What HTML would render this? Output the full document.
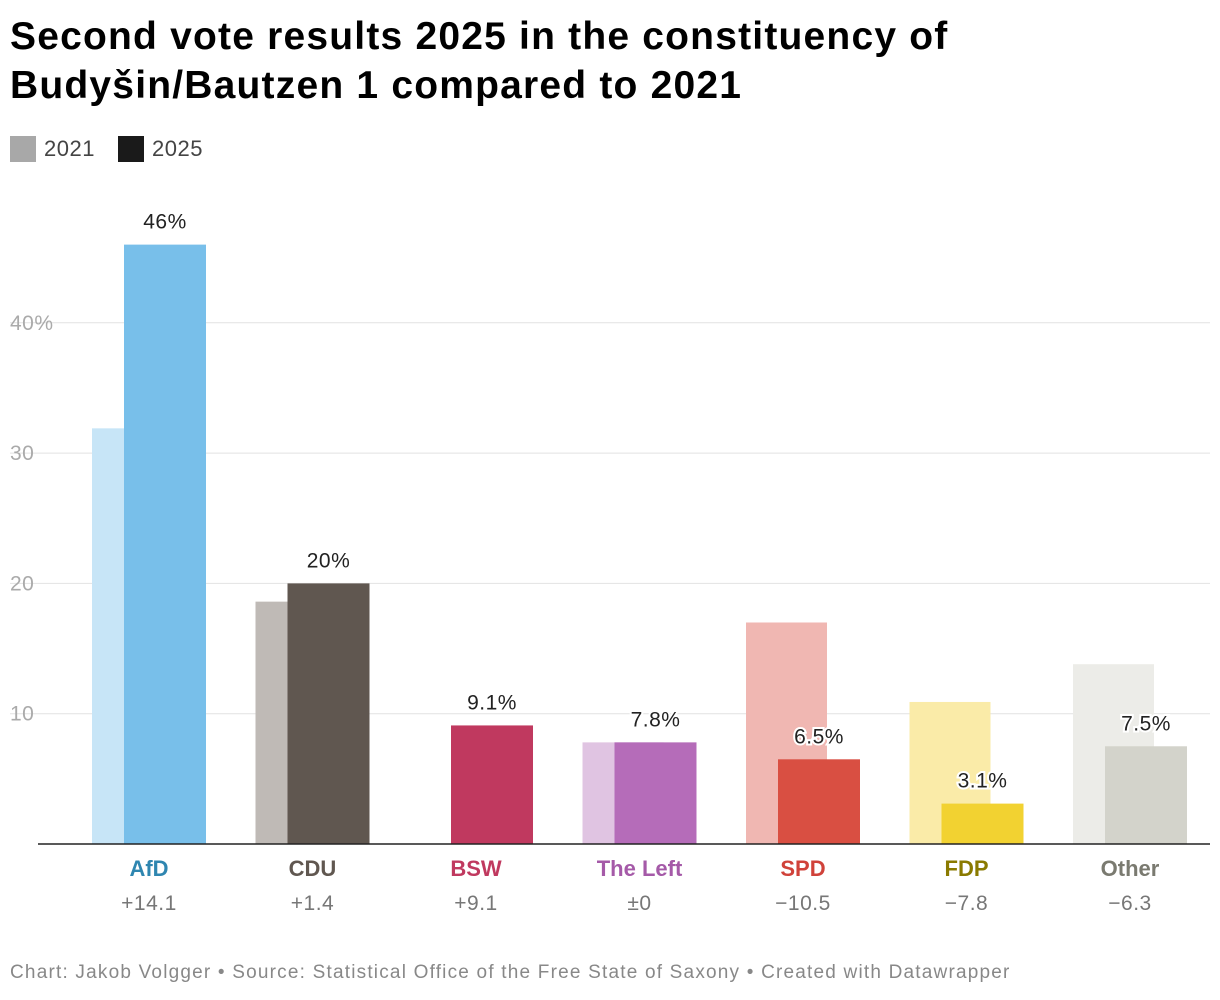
<!DOCTYPE html>
<html><head><meta charset="utf-8">
<style>
body{margin:0;background:#fff;font-family:"Liberation Sans",Arial,sans-serif;}
#wrap{position:relative;width:1220px;height:1000px;overflow:hidden;}
h1{position:absolute;left:10px;top:12px;margin:0;font-size:39px;line-height:49px;font-weight:bold;color:#000;letter-spacing:1.2px;}
.leg{position:absolute;top:136px;font-size:22px;color:#444;display:flex;align-items:center;letter-spacing:0.5px;}
.sw{width:26px;height:26px;margin-right:8px;display:inline-block;}
#foot{position:absolute;left:10px;top:962px;font-size:19px;color:#888;letter-spacing:1.2px;}
</style></head><body>
<div id="wrap">
<h1>Second vote results 2025 in the constituency of<br>Budyšin/Bautzen 1 compared to 2021</h1>
<div class="leg" style="left:10px"><span class="sw" style="background:#a8a8a8"></span>2021</div>
<div class="leg" style="left:118px"><span class="sw" style="background:#1a1a1a"></span>2025</div>
<svg id="chart" width="1220" height="1000" style="position:absolute;left:0;top:0"></svg>
<div id="foot">Chart: Jakob Volgger • Source: Statistical Office of the Free State of Saxony • Created with Datawrapper</div>
</div>
<script>
const parties=["AfD","CDU","BSW","The Left","SPD","FDP","Other"];
const v2021=[31.9,18.6,0,7.8,17.0,10.9,13.8];
const v2025=[46,20,9.1,7.8,6.5,3.1,7.5];
const valueLabels=["46%","20%","9.1%","7.8%","6.5%","3.1%","7.5%"];
const diffLabels=["+14.1","+1.4","+9.1","±0","−10.5","−7.8","−6.3"];
const ticks=[10,20,30,40];
const tickLabels=["10","20","30","40%"];
const dark=["#78bfea","#605750","#c0395f","#b56cb9","#d94f42","#f2d231","#d3d3cb"];
const light=["#c7e5f7","#bfbab6","#f0c4d0","#e0c4e2","#f0b7b2","#faeba8","#ecece8"];
const nameCol=["#2f86b0","#605750","#c0395f","#a55aa8","#d0423a","#8a7a00","#7a7a70"];
const NS="http://www.w3.org/2000/svg";
const svg=document.getElementById('chart');
const y=v=>844-v*13.03;
const gx=i=>124+i*163.5;
function mk(t,a){const e=document.createElementNS(NS,t);for(const k in a)e.setAttribute(k,a[k]);svg.appendChild(e);return e;}
ticks.forEach((t,i)=>{
 const l=mk('line',{x1:10,x2:1210,y1:y(t),y2:y(t),stroke:'#e2e2e2','stroke-width':1});
 
 
 const tx=mk('text',{x:10,y:y(t)+7,'font-size':21,fill:'#aaa','letter-spacing':'0.5'});tx.textContent=tickLabels[i];
 
 
});
parties.forEach((p,i)=>{
 const x=gx(i);
 if(v2021[i]>0){const r=mk('rect',{x:x-32,y:y(v2021[i]),width:81,height:v2021[i]*13.03,fill:light[i]});
 
 }
 const r2=mk('rect',{x:x,y:y(v2025[i]),width:82,height:v2025[i]*13.03,fill:dark[i]});
 
 
 const vl=mk('text',{x:x+41,y:y(v2025[i])-16,'font-size':21,fill:'#222','text-anchor':'middle',stroke:'#fff','stroke-width':4,'paint-order':'stroke','letter-spacing':'0.5'});vl.textContent=valueLabels[i];
 
 
 const cx=x+25;
 const n=mk('text',{x:cx,y:876,'font-size':22,'font-weight':'bold',fill:nameCol[i],'text-anchor':'middle'});n.textContent=p;
 
 
 const d=mk('text',{x:cx,y:910,'font-size':21,fill:'#777','text-anchor':'middle','letter-spacing':'0.5'});d.textContent=diffLabels[i];
 
 
});
const ax=mk('line',{x1:38,x2:1210,y1:844,y2:844,stroke:'#222','stroke-width':1.5});


</script>
</body></html>
